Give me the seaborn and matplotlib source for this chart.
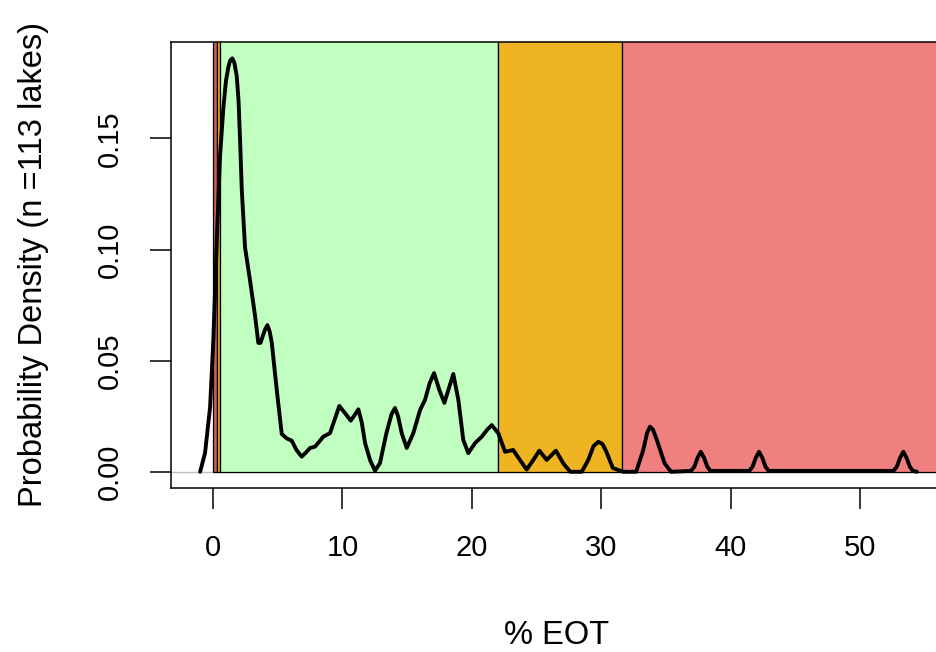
"""Density of % EOT across lakes, with shaded status zones."""
import matplotlib
matplotlib.use("Agg")
import matplotlib.pyplot as plt
import seaborn as sns

# ---------------------------------------------------------------------------
# Data
# ---------------------------------------------------------------------------
density_x = [
    -1.0, -0.62, -0.23, 0.02, 0.29, 0.54, 0.80, 1.00, 1.18, 1.32,
    1.49, 1.65, 1.83, 1.97, 2.09, 2.22, 2.47, 2.86, 3.25, 3.50,
    3.67, 3.84, 4.02, 4.20, 4.38, 4.54, 4.92, 5.31, 5.70, 6.08,
    6.45, 6.85, 7.15, 7.50, 7.88, 8.20, 8.52, 9.04, 9.40, 9.76,
    10.20, 10.64, 11.00, 11.23, 11.50, 11.75, 12.15, 12.52, 12.90, 13.40,
    13.80, 14.06, 14.30, 14.58, 14.97, 15.48, 16.00, 16.38, 16.75, 17.08,
    17.49, 17.88, 18.25, 18.57, 18.96, 19.34, 19.73, 20.25, 20.77, 21.20,
    21.54, 22.05, 22.57, 23.20, 23.72, 24.24, 24.75, 25.22, 25.79, 26.50,
    27.07, 27.60, 28.50, 29.00, 29.40, 29.78, 30.10, 30.40, 30.90, 31.70,
    32.70, 33.25, 33.55, 33.77, 34.00, 34.30, 34.90, 35.40, 36.95, 37.20,
    37.45, 37.70, 37.95, 38.20, 38.45, 41.45, 41.70, 41.95, 42.20, 42.45,
    42.70, 42.95, 52.60, 52.85, 53.10, 53.35, 53.60, 53.85, 54.10, 54.40,
]
density_y = [
    0.0, 0.0084, 0.029, 0.059, 0.104, 0.142, 0.164, 0.176, 0.182, 0.185,
    0.186, 0.184, 0.178, 0.167, 0.149, 0.127, 0.101, 0.086, 0.070, 0.058,
    0.058, 0.061, 0.064, 0.066, 0.063, 0.058, 0.037, 0.017, 0.015, 0.014,
    0.0098, 0.0068, 0.0085, 0.0107, 0.0113, 0.0135, 0.0158, 0.0174, 0.0235, 0.0296,
    0.0264, 0.023, 0.026, 0.0281, 0.022, 0.0129, 0.005, 0.0005, 0.0039, 0.0174,
    0.026, 0.0287, 0.025, 0.0174, 0.0107, 0.0174, 0.0278, 0.0323, 0.040, 0.0444,
    0.0368, 0.031, 0.038, 0.044, 0.0323, 0.0143, 0.0084, 0.0129, 0.0158, 0.019,
    0.021, 0.0173, 0.009, 0.0098, 0.0053, 0.001, 0.0053, 0.0095, 0.0053, 0.0095,
    0.0038, 0.0, 0.0, 0.0053, 0.0115, 0.0135, 0.0125, 0.009, 0.0017, 0.0,
    0.0, 0.0098, 0.0175, 0.0203, 0.019, 0.0143, 0.0038, 0.0, 0.0004, 0.0023,
    0.0063, 0.009, 0.0063, 0.0023, 0.0004, 0.0004, 0.0023, 0.0063, 0.009, 0.0063,
    0.0023, 0.0004, 0.0004, 0.0023, 0.0063, 0.009, 0.0063, 0.0023, 0.0004, 0.0,
]

zone_start = [0.0, 0.32, 0.52, 22.0, 31.6]
zone_end = [0.32, 0.52, 22.0, 31.6, 60.0]
zone_color = ["#CD5C5C", "#EEB422", "#C1FFC1", "#EEB422", "#F08080"]

x_ticks = [0, 10, 20, 30, 40, 50]
y_ticks = [0.00, 0.05, 0.10, 0.15]

# ---------------------------------------------------------------------------
# Plot
# ---------------------------------------------------------------------------
sns.set_theme(style="white")
plt.rcParams["font.family"] = ["Liberation Sans", "DejaVu Sans"]
plt.rcParams["text.color"] = "black"
plt.rcParams["axes.labelcolor"] = "black"
plt.rcParams["xtick.color"] = "black"
plt.rcParams["ytick.color"] = "black"

fig = plt.figure(figsize=(9.36, 6.52), dpi=100)
ax = fig.add_axes([171 / 936, 1 - 488 / 652, 786 / 936, (488 - 41.7) / 652])

ax.set_xlim(-3.25, 57.5)
ax.set_ylim(-0.0073, 0.1935)

# grey zero line, then the shaded zones (bars from 0 upwards)
ax.axhline(0, color="#BEBEBE", lw=1.0, zorder=1)
ax.bar(
    zone_start,
    [1.0] * len(zone_start),
    width=[e - s for s, e in zip(zone_start, zone_end)],
    bottom=0,
    align="edge",
    color=zone_color,
    edgecolor="black",
    linewidth=0.9,
    zorder=2,
)

sns.lineplot(x=density_x, y=density_y, color="black", lw=2.8, sort=False,
             solid_joinstyle="round", solid_capstyle="round", ax=ax, zorder=3)

ax.set_xticks(x_ticks)
ax.set_yticks(y_ticks)
ax.set_xticklabels([str(t) for t in x_ticks])
ax.set_yticklabels([f"{t:.2f}" for t in y_ticks], rotation=90, va="center")
ax.tick_params(axis="both", which="major", direction="out", length=15,
               width=1.1, color="black", labelsize=21, left=True, bottom=True)
ax.tick_params(axis="x", pad=18)
ax.tick_params(axis="y", pad=19)

for side in ("left", "bottom", "top", "right"):
    ax.spines[side].set_color("black")
    ax.spines[side].set_linewidth(1.1)

ax.set_xlabel("% EOT", fontsize=23.5)
ax.xaxis.set_label_coords(0.49, -0.295)
ax.set_ylabel("Probability Density (n =113 lakes)", fontsize=23.5)
ax.yaxis.set_label_coords(-0.155, 0.5)

fig.savefig("out.png", dpi=100)
